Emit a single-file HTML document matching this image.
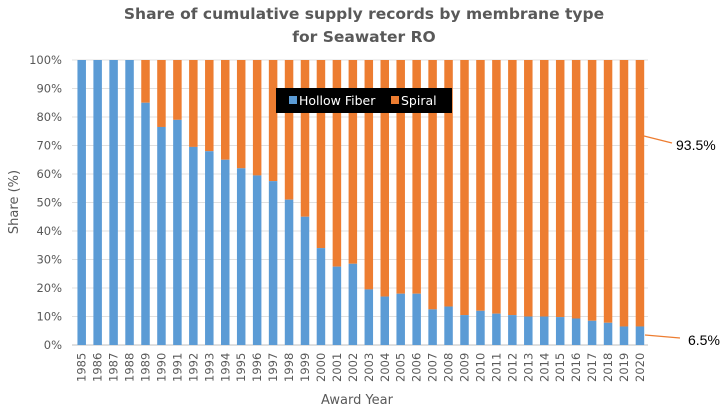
<!DOCTYPE html>
<html><head><meta charset="utf-8"><style>
body{margin:0;background:#fff;}
svg{font-family:"DejaVu Sans","Liberation Sans",sans-serif;}
</style></head><body>
<svg width="728" height="410">
<text x="364" y="19" text-anchor="middle" font-size="15.5" font-weight="bold" fill="#595959">Share of cumulative supply records by membrane type</text>
<text x="364" y="42" text-anchor="middle" font-size="15.5" font-weight="bold" fill="#595959">for Seawater RO</text>
<g id="grid"></g><g id="bars"></g><g id="ylabels"></g><g id="xlabels"></g>
<text transform="translate(18,202) rotate(-90)" text-anchor="middle" font-size="13" fill="#595959">Share (%)</text>
<text x="357" y="404" text-anchor="middle" font-size="13" fill="#595959">Award Year</text>
<rect x="276" y="88" width="176" height="25" fill="#000"/>
<rect x="289" y="96" width="8" height="8" fill="#5b9bd5"/>
<text x="299" y="105" font-size="12.5" fill="#fff">Hollow Fiber</text>
<rect x="391" y="96" width="8" height="8" fill="#ed7d31"/>
<text x="401" y="105" font-size="12.5" fill="#fff">Spiral</text>
<line x1="644" y1="136" x2="672" y2="143" stroke="#ed7d31" stroke-width="1.2"/>
<text x="676" y="150" font-size="14" fill="#000" font-family="Liberation Sans, sans-serif">93.5%</text>
<line x1="645" y1="335" x2="680" y2="338" stroke="#ed7d31" stroke-width="1.2"/>
<text x="688" y="345" font-size="14" fill="#000" font-family="Liberation Sans, sans-serif">6.5%</text>
</svg>
<script>
const years=[1985,1986,1987,1988,1989,1990,1991,1992,1993,1994,1995,1996,1997,1998,1999,2000,2001,2002,2003,2004,2005,2006,2007,2008,2009,2010,2011,2012,2013,2014,2015,2016,2017,2018,2019,2020];
const hollow=[100,100,100,100,85,76.5,79,69.5,68,65,62,59.5,57.5,51,45,34,27.5,28.5,19.5,17,18,18,12.5,13.5,10.5,12,11,10.5,10,10,9.8,9.3,8.5,7.8,6.5,6.5];
const yTicks=[0,10,20,30,40,50,60,70,80,90,100];
const NS="http://www.w3.org/2000/svg";
const y0=345,y100=60,x0=81.7,step=15.95,bw=8.5;
const ys=v=>y0-(y0-y100)*v/100;
const xs=i=>x0+i*step;
function mk(t,a,p){const e=document.createElementNS(NS,t);for(const k in a)e.setAttribute(k,a[k]);p.appendChild(e);return e;}
const g=document.getElementById('grid'),b=document.getElementById('bars'),yl=document.getElementById('ylabels'),xl=document.getElementById('xlabels');
yTicks.forEach(t=>{
 const l=mk('line',{x1:72,x2:648,y1:ys(t),y2:ys(t),stroke:t===0?'#bfbfbf':'#e0e0e0','stroke-width':1},g);
 
 
 const tx=mk('text',{x:62,y:ys(t)+4,'text-anchor':'end','font-size':11.5,fill:'#595959'},yl);
 tx.textContent=t+'%';
 
 
});
years.forEach((yr,i)=>{
 const x=xs(i)-bw/2,h=hollow[i];
 const r1=mk('rect',{x:x,y:ys(100),width:bw,height:ys(h)-ys(100),fill:'#ed7d31'},b);
 
 
 const r2=mk('rect',{x:x,y:ys(h),width:bw,height:y0-ys(h),fill:'#5b9bd5'},b);
 
 
 const tx=mk('text',{transform:`translate(${xs(i)+4},382) rotate(-90)`,'font-size':11.5,fill:'#595959'},xl);
 tx.textContent=yr;
 
 
});
</script>
</body></html>
